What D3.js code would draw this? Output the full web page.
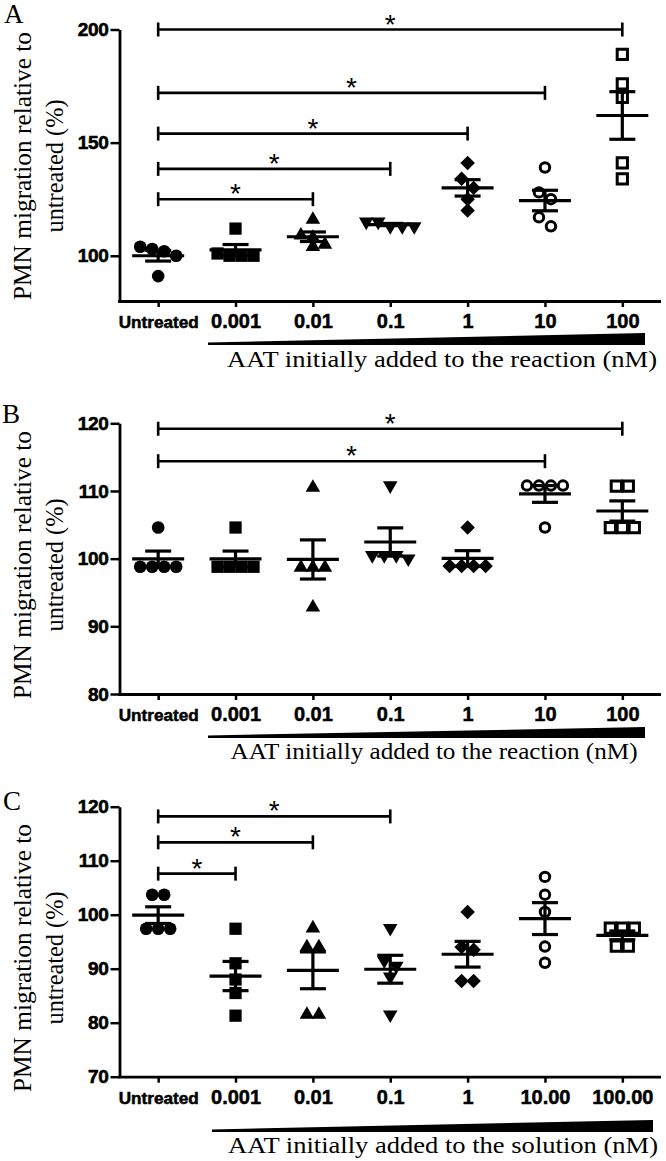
<!DOCTYPE html>
<html><head><meta charset="utf-8">
<script src="https://cdn.jsdelivr.net/npm/d3@7/dist/d3.min.js"></script>
<style>
html,body{margin:0;padding:0;background:#fff;}
svg{display:block;}
</style></head>
<body>
<svg id="chart" width="666" height="1161"></svg>
<script>
// ---------- DATA ----------
const categoriesAB = ["Untreated","0.001","0.01","0.1","1","10","100"];
const categoriesC  = ["Untreated","0.001","0.01","0.1","1","10.00","100.00"];

const valuesA = [
  [104,103,102,100,91],
  [112,101,100,100,100],
  [116,109,108,105,104],
  [115,115,113,113,113],
  [141,134,130,125,120],
  [139,128,125,117,113],
  [189,176,170,141,134]
];
const valuesB = [
  [104.6,98.8,98.8,98.8,98.8],
  [104.6,98.8,98.8,98.8,98.8],
  [110.5,98.7,98.7,98.7,92.8],
  [110.8,100.5,100.5,100.5,100],
  [104.6,98.9,98.9,98.9,98.9],
  [110.8,110.8,110.8,110.8,104.6],
  [110.7,110.7,104.6,104.6,104.6]
];
const valuesC = [
  [103.7,103.7,97.4,97.4,97.4],
  [97.4,91,88,85.5,81.3],
  [97.5,94,94,81.5,81.5],
  [97.5,91.5,90.5,88.5,81.5],
  [100.5,94,93.5,87.7,87.7],
  [107,103.7,100.5,94.1,91.1],
  [97.5,97.5,97.5,94.2,94.2]
];

const yTicksA = [100,150,200];
const yTicksB = [80,90,100,110,120];
const yTicksC = [70,80,90,100,110,120];
const yDomainA = [80,200];
const yDomainB = [80,120];
const yDomainC = [70,120];

// significance comparisons: [from, to, bar level (y value)]
const sigA = [["Untreated","100",200],["Untreated","10",172],["Untreated","1",154],["Untreated","0.1",138.4],["Untreated","0.01",125]];
const sigB = [["Untreated","100",119.2],["Untreated","10",114.4]];
const sigC = [["Untreated","0.1",118.2],["Untreated","0.01",113.4],["Untreated","0.001",107.6]];

const panelLetters = ["A","B","C"];
const yTitle = ["PMN migration relative to","untreated (%)"];
const xTitleAB = "AAT initially added to the reaction (nM)";
const xTitleC  = "AAT initially added to the solution (nM)";

// ---------- LAYOUT ----------
const panels = [
  {letter:panelLetters[0], cats:categoriesAB, vals:valuesA, ticks:yTicksA, dom:yDomainA, sig:sigA, title:xTitleAB,
   yr:[301,29.5], letterPos:[4,23], yTitleC:166, wedge:{x0:208,x1:645,yb:345,yt:333}, xt:{cx:442,y:367,len:430}},
  {letter:panelLetters[1], cats:categoriesAB, vals:valuesB, ticks:yTicksB, dom:yDomainB, sig:sigB, title:xTitleAB,
   yr:[694,423.3], letterPos:[2,423], yTitleC:565, wedge:{x0:208,x1:645,yb:738,yt:727}, xt:{cx:434,y:759,len:407}},
  {letter:panelLetters[2], cats:categoriesC, vals:valuesC, ticks:yTicksC, dom:yDomainC, sig:sigC, title:xTitleC,
   yr:[1076.7,806.7], letterPos:[3,810], yTitleC:958, wedge:{x0:212,x1:653,yb:1132,yt:1120}, xt:{cx:443,y:1153,len:430}}
];

const svg = d3.select("#chart");
const serif = "Liberation Serif, DejaVu Serif, serif";
const sans = "Liberation Sans, Arial, sans-serif";
const AX = 119.5, XR = 661;

const markers = [
  {type:d3.symbolCircle, size:125, open:false, rot:0},
  {type:d3.symbolSquare, size:150, open:false, rot:0},
  {type:d3.symbolTriangle, size:92, open:false, rot:0},
  {type:d3.symbolTriangle, size:92, open:false, rot:180},
  {type:d3.symbolSquare, size:105, open:false, rot:45},
  {type:d3.symbolCircle, size:70, open:true, rot:0},
  {type:d3.symbolSquare, size:105, open:true, rot:0}
];

function swarm(vals, y, spacing, thresh){
  const sorted = vals.map((v,i)=>({v,i})).sort((a,b)=>b.v-a.v);
  const rows = [];
  sorted.forEach(p=>{
    const py = y(p.v);
    const last = rows[rows.length-1];
    if(last && Math.abs(py-last.py0) < thresh) last.items.push(p);
    else rows.push({py0:py, items:[p]});
  });
  const out = [];
  rows.forEach(r=>{
    const k = r.items.length;
    r.items.forEach((p,j)=>out.push({v:p.v, dx:(j-(k-1)/2)*spacing}));
  });
  return out;
}

panels.forEach(P=>{
  const g = svg.append("g");
  const x = d3.scalePoint().domain(P.cats).range([AX, XR]).padding(0.5);
  const y = d3.scaleLinear().domain(P.dom).range(P.yr);

  // y axis
  const ya = g.append("g").attr("transform",`translate(${AX},0)`)
    .call(d3.axisLeft(y).tickValues(P.ticks).tickSize(9).tickSizeOuter(0).tickPadding(2));
  ya.select(".domain").attr("stroke","#000").attr("stroke-width",2.8);
  ya.selectAll(".tick line").attr("stroke","#000").attr("stroke-width",2.5);
  ya.selectAll(".tick text").attr("font-family",sans).attr("font-weight","bold")
    .attr("font-size",19).attr("fill","#000").attr("stroke","#000").attr("stroke-width",0.6)
    .attr("letter-spacing",-0.3);

  // x axis
  const xa = g.append("g").attr("transform",`translate(0,${P.yr[0]})`)
    .call(d3.axisBottom(x).tickSize(6).tickSizeOuter(0).tickPadding(7));
  xa.select(".domain").attr("stroke","#000").attr("stroke-width",2.8)
    .attr("d",`M${AX - 1.4},0.5H${XR}`);
  xa.selectAll(".tick line").attr("stroke","#000").attr("stroke-width",2.5);
  xa.selectAll(".tick text").attr("font-family",sans).attr("font-weight","bold").attr("fill","#000")
    .attr("stroke","#000").attr("stroke-width",0.5)
    .attr("font-size",d=>d==="Untreated"?16:20)
    .each(function(d){ if(d==="Untreated"){ d3.select(this).attr("textLength",80).attr("lengthAdjust","spacingAndGlyphs").attr("dy","0.9em"); } });

  // wedge
  const w = P.wedge;
  g.append("path").attr("d",`M${w.x0},${w.yb}L${w.x0},${w.yb-2.5}L${w.x1},${w.yt}L${w.x1},${w.yb}Z`).attr("fill","#000");

  // x title
  g.append("text").attr("x",P.xt.cx).attr("y",P.xt.y).attr("text-anchor","middle")
    .attr("font-family",serif).attr("font-size",24).attr("fill","#000")
    .attr("textLength",P.xt.len).attr("lengthAdjust","spacingAndGlyphs").text(P.title);

  // y title
  const yt = g.append("text").attr("transform",`translate(0,${P.yTitleC}) rotate(-90)`)
    .attr("text-anchor","middle").attr("font-family",serif).attr("font-size",26).attr("fill","#000");
  yt.append("tspan").attr("x",0).attr("y",31).attr("textLength",268).attr("lengthAdjust","spacingAndGlyphs").text(yTitle[0]);
  yt.append("tspan").attr("x",0).attr("y",63).attr("textLength",133).attr("lengthAdjust","spacingAndGlyphs").text(yTitle[1]);

  // panel letter
  g.append("text").attr("x",P.letterPos[0]).attr("y",P.letterPos[1]).attr("font-family",serif)
    .attr("font-size",27).attr("fill","#000").text(P.letter);

  // points
  P.vals.forEach((vals,ci)=>{
    const cx = x(P.cats[ci]);
    const m = markers[ci];
    const pts = swarm(vals, y, 12, 11);
    g.selectAll(null).data(pts).join("path")
      .attr("d", d3.symbol().type(m.type).size(m.size))
      .attr("transform", d=>`translate(${cx+d.dx},${y(d.v)}) rotate(${m.rot})`)
      .attr("fill", m.open ? "#fff" : "#000")
      .attr("stroke", m.open ? "#000" : "none")
      .attr("stroke-width", m.open ? 3 : 0);

    // mean & SEM
    const mean = d3.mean(vals);
    const sem = d3.deviation(vals)/Math.sqrt(vals.length);
    const lg = g.append("g").attr("stroke","#000").attr("stroke-width",3.2);
    lg.append("line").attr("x1",cx-26).attr("x2",cx+26).attr("y1",y(mean)).attr("y2",y(mean));
    lg.append("line").attr("x1",cx).attr("x2",cx).attr("y1",y(mean+sem)).attr("y2",y(mean-sem));
    [mean+sem, mean-sem].forEach(v=>{
      lg.append("line").attr("x1",cx-13).attr("x2",cx+13).attr("y1",y(v)).attr("y2",y(v));
    });
  });

  // significance bars
  P.sig.forEach(s=>{
    const x1 = x(s[0]), x2 = x(s[1]), yy = y(s[2]);
    const sg = g.append("g").attr("stroke","#000").attr("stroke-width",2.6);
    sg.append("line").attr("x1",x1).attr("x2",x2).attr("y1",yy).attr("y2",yy);
    sg.append("line").attr("x1",x1).attr("x2",x1).attr("y1",yy-7).attr("y2",yy+7);
    sg.append("line").attr("x1",x2).attr("x2",x2).attr("y1",yy-7).attr("y2",yy+7);
    g.append("text").attr("x",(x1+x2)/2).attr("y",yy+4).attr("text-anchor","middle")
      .attr("font-family",sans).attr("font-size",28).attr("fill","#000").text("*");
  });
});
</script>
</body></html>
